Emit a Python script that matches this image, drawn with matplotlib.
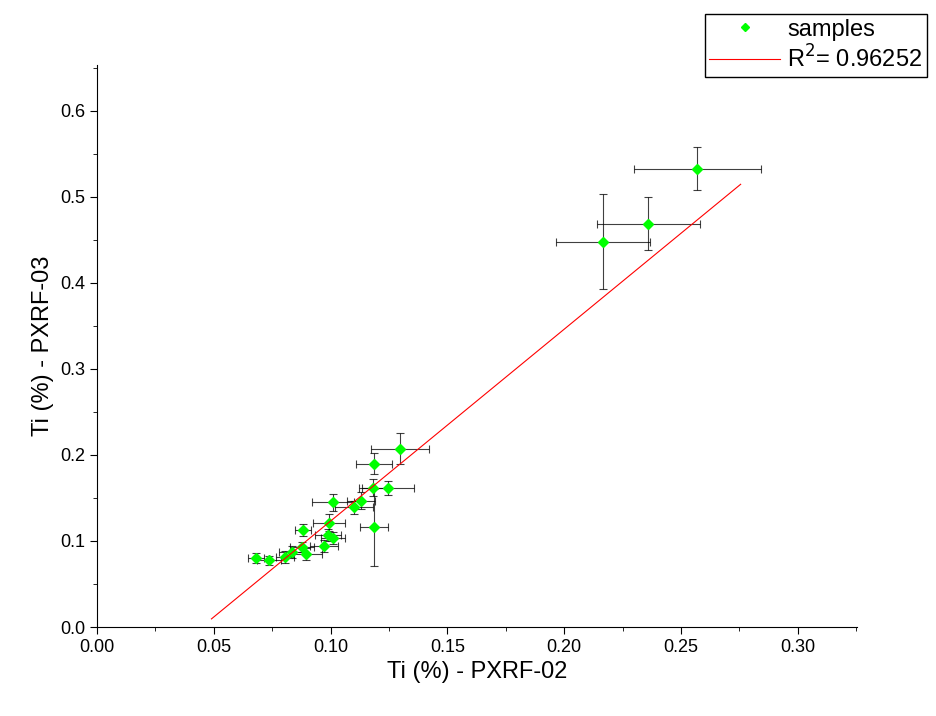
import matplotlib.pyplot as plt
from matplotlib.ticker import MultipleLocator
import numpy as np

plt.rcParams['font.family'] = ['Liberation Sans', 'DejaVu Sans']

# Ti (%) readings
x = [0.1297, 0.1186, 0.1180, 0.1246, 0.1130, 0.1010, 0.1100, 0.0993, 0.1186, 0.0882,
     0.0989, 0.1010, 0.0972, 0.0877, 0.0895, 0.0835, 0.0805, 0.0736, 0.0680,
     0.2570, 0.2360, 0.2166]
y = [0.207, 0.190, 0.162, 0.162, 0.147, 0.145, 0.139, 0.1215, 0.116, 0.113,
     0.1065, 0.103, 0.094, 0.093, 0.0845, 0.087, 0.081, 0.0775, 0.080,
     0.533, 0.469, 0.448]
xerr = [0.0125, 0.0076, 0.0060, 0.0110, 0.0060, 0.0090, 0.0080, 0.0070, 0.0060, 0.0035,
        0.0055, 0.0050, 0.0060, 0.0050, 0.0070, 0.0055, 0.0040, 0.0050, 0.0035,
        0.0270, 0.0220, 0.0200]
yerr = [0.018, 0.012, 0.010, 0.008, 0.010, 0.010, 0.008, 0.010, 0.045, 0.007,
        0.007, 0.007, 0.007, 0.006, 0.007, 0.007, 0.007, 0.005, 0.006,
        0.025, 0.031, 0.055]

fit_slope, fit_icpt = 2.231, -0.0999
fit_x = [0.049, 0.2755]
r2_label = r'R$^2$= 0.96252'

fig = plt.figure(figsize=(9.36, 7.16), dpi=100)
ax = fig.add_axes([0.1036, 0.1243, 0.812, 0.785])

ax.errorbar(x, y, xerr=xerr, yerr=yerr, fmt='none', ecolor='black', elinewidth=0.8,
            capsize=3, capthick=0.8, alpha=0.75)
pts, = ax.plot(x, y, 'D', color='#00ff00', markersize=5, linestyle='none', label='samples')
fx = np.array(fit_x)
ln, = ax.plot(fx, fit_slope * fx + fit_icpt, color='red', linewidth=0.8, label=r2_label)

ax.set_xlim(0, 0.3253)
ax.set_ylim(0, 0.6535)
ax.xaxis.set_major_locator(MultipleLocator(0.05))
ax.xaxis.set_minor_locator(MultipleLocator(0.025))
ax.yaxis.set_major_locator(MultipleLocator(0.1))
ax.yaxis.set_minor_locator(MultipleLocator(0.05))
ax.xaxis.set_major_formatter(plt.FuncFormatter(lambda v, p: f'{v:.2f}'))
ax.yaxis.set_major_formatter(plt.FuncFormatter(lambda v, p: f'{v:.1f}'))
for s in ['top', 'right']:
    ax.spines[s].set_visible(False)
ax.tick_params(direction='out', length=5, labelsize=13)
ax.tick_params(which='minor', direction='out', length=3)
ax.set_xlabel('Ti (%) - PXRF-02', fontsize=17)
ax.set_ylabel('Ti (%) - PXRF-03', fontsize=17)

leg = fig.legend(handles=[pts, ln], loc='upper right', bbox_to_anchor=(1.003, 0.997),
                 fancybox=False, edgecolor='black', framealpha=1, fontsize=17,
                 handlelength=3, borderpad=0.2, labelspacing=0.2, markerscale=0.8,
                 handletextpad=0.3)
leg.get_frame().set_linewidth(1)

fig.savefig('out.png', dpi=100)
